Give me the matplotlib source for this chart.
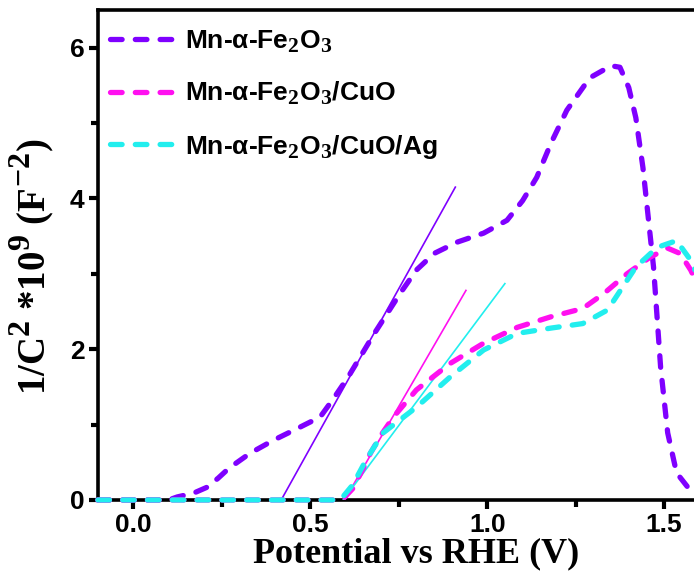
import matplotlib.pyplot as plt
import matplotlib._mathtext as mtext

# Mott-Schottky data
x_mn = [-0.1, 0.0, 0.10, 0.124, 0.17, 0.209, 0.24, 0.27, 0.33, 0.395, 0.46, 0.528, 0.565, 0.607, 0.68,
        0.754, 0.80, 0.85, 0.915, 0.99, 1.056, 1.10, 1.14, 1.18, 1.225, 1.29, 1.35, 1.375,
        1.40, 1.42, 1.44, 1.455, 1.47, 1.49, 1.51, 1.535, 1.58, 1.65, 1.75]
y_mn = [0, 0, 0.0, 0.04, 0.09, 0.17, 0.29, 0.42, 0.62, 0.79, 0.94, 1.10, 1.34, 1.63, 2.2,
        2.74, 3.05, 3.27, 3.42, 3.54, 3.71, 3.97, 4.28, 4.73, 5.17, 5.6, 5.76, 5.74,
        5.47, 5.07, 4.41, 3.75, 3.09, 1.76, 0.89, 0.36, 0.09, 0.02, 0.0]

x_cuo = [-0.1, 0.59, 0.62, 0.65, 0.67, 0.70, 0.735, 0.80, 0.895, 0.99, 1.085, 1.18, 1.27,
         1.33, 1.395, 1.46, 1.51, 1.545, 1.575, 1.62]
y_cuo = [0, 0, 0.15, 0.42, 0.62, 0.86, 1.1, 1.46, 1.81, 2.08, 2.29, 2.43, 2.54,
         2.74, 3.0, 3.22, 3.34, 3.27, 3.05, 2.6]

x_ag = [-0.1, 0.585, 0.62, 0.66, 0.706, 0.75, 0.80, 0.895, 0.99, 1.085, 1.18, 1.27, 1.34,
        1.42, 1.48, 1.535, 1.575, 1.62]
y_ag = [0, 0, 0.2, 0.55, 0.89, 1.05, 1.23, 1.63, 1.99, 2.21, 2.28, 2.34, 2.52,
        3.09, 3.35, 3.44, 3.18, 2.7]

# linear fits (tangents)
fit_mn_x = [0.418, 0.91]
fit_mn_y = [0.0, 4.15]
fit_cuo_x = [0.597, 0.94]
fit_cuo_y = [0.0, 2.78]
fit_ag_x = [0.593, 1.05]
fit_ag_y = [0.0, 2.87]

labels = [r"Mn-$\alpha$-Fe$_2$O$_3$", r"Mn-$\alpha$-Fe$_2$O$_3$/CuO", r"Mn-$\alpha$-Fe$_2$O$_3$/CuO/Ag"]
colors = ["#7F00FF", "#FF10F0", "#22EEEE"]

# bigger sub/superscripts like the original
mtext.SHRINK_FACTOR = 0.82
plt.rcParams["mathtext.fontset"] = "custom"
plt.rcParams["mathtext.rm"] = "Liberation Sans:bold"
plt.rcParams["mathtext.it"] = "Liberation Sans:bold"
plt.rcParams["mathtext.bf"] = "Liberation Sans:bold"

fig = plt.figure(figsize=(6.94, 5.83), dpi=100)
ax = fig.add_axes([0.141, 0.1424, 0.918, 0.8405])

data = [(x_mn, y_mn), (x_cuo, y_cuo), (x_ag, y_ag)]
fits = [(fit_mn_x, fit_mn_y), (fit_cuo_x, fit_cuo_y), (fit_ag_x, fit_ag_y)]
for (xs, ys), lab, c in zip(data, labels, colors):
    ax.plot(xs, ys, color=c, lw=3.8, dashes=(2.2, 2.5), dash_capstyle="round",
            label=lab, zorder=4, clip_on=False)
for (xs, ys), c in zip(fits, colors):
    ax.plot(xs, ys, color=c, lw=1.2, zorder=3)

ax.set_xlim(-0.1, 1.7)
ax.set_ylim(0, 6.5)
ax.set_xticks([0.0, 0.5, 1.0, 1.5])
ax.set_xticklabels(["0.0", "0.5", "1.0", "1.5"])
ax.set_xticks([0.25, 0.75, 1.25], minor=True)
ax.set_yticks([0, 2, 4, 6])
ax.set_yticks([1, 3, 5], minor=True)

for s in ax.spines.values():
    s.set_linewidth(2.6)
ax.tick_params(which="major", direction="out", length=6.5, width=3, labelsize=19, pad=3)
ax.tick_params(which="minor", direction="out", length=5, width=3)
for t in ax.get_xticklabels() + ax.get_yticklabels():
    t.set_fontfamily("Liberation Sans")
    t.set_fontweight("bold")

ax.set_xlabel("Potential vs RHE (V)", fontsize=26, fontfamily="Liberation Serif",
              fontweight="bold", labelpad=0)
plt.rcParams["mathtext.rm"] = "Liberation Serif:bold"
ax.set_ylabel(r"1/C$^{\mathregular{2}}$ *10$^{\mathregular{9}}$ (F$^{\mathregular{-2}}$)",
              fontsize=28, fontfamily="Liberation Serif", fontweight="bold")
ax.yaxis.set_label_coords(-0.066, 0.475)

leg = ax.legend(loc="upper left", bbox_to_anchor=(-0.01, 1.0), frameon=False,
                prop={"family": "Liberation Sans", "weight": "bold", "size": 19},
                handlelength=2.4, labelspacing=0.96, borderaxespad=0.3, handletextpad=0.45)

plt.savefig("out.png", dpi=100)
